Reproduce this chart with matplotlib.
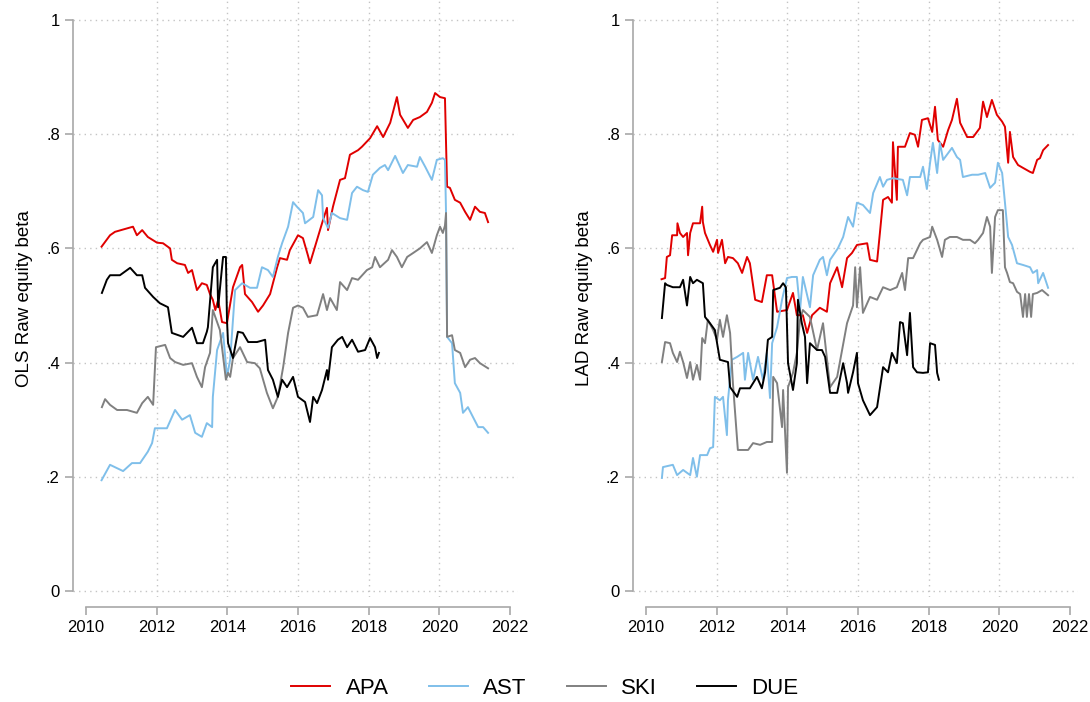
import matplotlib
matplotlib.use("Agg")
import matplotlib.pyplot as plt
from matplotlib.ticker import FuncFormatter

plt.rcParams['font.family'] = ['Liberation Sans', 'DejaVu Sans']

# ---- OLS panel ----
ols_apa_t = [2010.44, 2010.68, 2010.82, 2011.33, 2011.44, 2011.59, 2011.75, 2012.01, 2012.18, 2012.38,
             2012.43, 2012.58, 2012.80, 2012.89, 2013.00, 2013.14, 2013.28, 2013.42, 2013.51, 2013.59,
             2013.66, 2013.74, 2013.85, 2013.99, 2014.16, 2014.36, 2014.42, 2014.50, 2014.70, 2014.87,
             2015.01, 2015.21, 2015.41, 2015.49, 2015.69, 2015.77, 2016.00, 2016.14, 2016.28, 2016.34,
             2016.54, 2016.71, 2016.82, 2016.85, 2016.99, 2017.19, 2017.33, 2017.47, 2017.70, 2017.81,
             2018.04, 2018.24, 2018.41, 2018.61, 2018.80, 2018.89, 2019.11, 2019.26, 2019.45, 2019.65,
             2019.79, 2019.88, 2020.02, 2020.16, 2020.19, 2020.22, 2020.30, 2020.44, 2020.59, 2020.73,
             2020.87, 2021.01, 2021.15, 2021.29, 2021.38]
ols_apa_v = [0.603, 0.623, 0.629, 0.638, 0.623, 0.632, 0.620, 0.610, 0.609, 0.600,
             0.580, 0.574, 0.571, 0.557, 0.562, 0.527, 0.539, 0.536, 0.520, 0.510,
             0.492, 0.510, 0.471, 0.469, 0.532, 0.567, 0.571, 0.520, 0.506, 0.489,
             0.500, 0.520, 0.567, 0.583, 0.580, 0.597, 0.623, 0.618, 0.588, 0.574,
             0.615, 0.650, 0.671, 0.632, 0.673, 0.720, 0.723, 0.764, 0.772, 0.778,
             0.793, 0.814, 0.795, 0.820, 0.865, 0.834, 0.811, 0.825, 0.830, 0.839,
             0.855, 0.872, 0.865, 0.863, 0.785, 0.708, 0.706, 0.685, 0.680, 0.664,
             0.650, 0.673, 0.664, 0.662, 0.646]

ols_ast_t = [2010.44, 2010.68, 2011.05, 2011.30, 2011.53, 2011.75, 2011.87, 2011.95, 2012.29, 2012.52,
             2012.72, 2012.94, 2013.09, 2013.28, 2013.42, 2013.57, 2013.59, 2013.71, 2013.88, 2013.99,
             2014.08, 2014.16, 2014.22, 2014.42, 2014.64, 2014.84, 2014.98, 2015.15, 2015.29, 2015.43,
             2015.55, 2015.72, 2015.86, 2015.97, 2016.14, 2016.20, 2016.43, 2016.57, 2016.68, 2016.71,
             2016.85, 2016.96, 2017.19, 2017.39, 2017.53, 2017.67, 2017.84, 2017.98, 2018.12, 2018.32,
             2018.46, 2018.55, 2018.75, 2018.89, 2018.97, 2019.11, 2019.37, 2019.45, 2019.60, 2019.79,
             2019.93, 2020.10, 2020.16, 2020.19, 2020.22, 2020.36, 2020.44, 2020.59, 2020.67, 2020.81,
             2020.95, 2021.10, 2021.24, 2021.38]
ols_ast_v = [0.194, 0.221, 0.210, 0.224, 0.224, 0.244, 0.259, 0.285, 0.285, 0.317,
             0.300, 0.308, 0.277, 0.270, 0.294, 0.287, 0.340, 0.422, 0.452, 0.375,
             0.405, 0.475, 0.527, 0.539, 0.531, 0.531, 0.567, 0.562, 0.550, 0.585,
             0.609, 0.638, 0.681, 0.673, 0.662, 0.644, 0.655, 0.702, 0.693, 0.653,
             0.636, 0.662, 0.653, 0.650, 0.697, 0.708, 0.702, 0.699, 0.729, 0.741,
             0.746, 0.737, 0.762, 0.743, 0.732, 0.746, 0.743, 0.760, 0.743, 0.720,
             0.755, 0.758, 0.755, 0.662, 0.445, 0.434, 0.364, 0.347, 0.312, 0.322,
             0.305, 0.287, 0.287, 0.277]

ols_ski_t = [2010.45, 2010.54, 2010.68, 2010.88, 2011.16, 2011.44, 2011.59, 2011.75, 2011.90, 2011.98,
             2012.24, 2012.38, 2012.52, 2012.75, 2013.00, 2013.14, 2013.28, 2013.37, 2013.51, 2013.59,
             2013.79, 2013.96, 2014.02, 2014.08, 2014.16, 2014.36, 2014.56, 2014.78, 2014.92, 2015.12,
             2015.29, 2015.43, 2015.58, 2015.72, 2015.86, 2016.00, 2016.14, 2016.28, 2016.54, 2016.71,
             2016.82, 2016.91, 2017.10, 2017.19, 2017.39, 2017.53, 2017.70, 2017.95, 2018.10, 2018.18,
             2018.32, 2018.55, 2018.66, 2018.80, 2018.94, 2019.09, 2019.26, 2019.45, 2019.65, 2019.79,
             2019.93, 2020.02, 2020.10, 2020.16, 2020.19, 2020.22, 2020.36, 2020.44, 2020.59, 2020.73,
             2020.87, 2021.01, 2021.15, 2021.38]
ols_ski_v = [0.322, 0.336, 0.326, 0.317, 0.317, 0.312, 0.329, 0.340, 0.326, 0.427,
             0.431, 0.408, 0.401, 0.396, 0.399, 0.375, 0.357, 0.392, 0.417, 0.492,
             0.457, 0.370, 0.382, 0.375, 0.408, 0.427, 0.401, 0.399, 0.390, 0.347,
             0.320, 0.340, 0.392, 0.452, 0.496, 0.500, 0.496, 0.480, 0.483, 0.520,
             0.492, 0.513, 0.492, 0.541, 0.527, 0.548, 0.545, 0.562, 0.567, 0.585,
             0.567, 0.580, 0.597, 0.585, 0.567, 0.585, 0.592, 0.600, 0.611, 0.592,
             0.623, 0.638, 0.627, 0.640, 0.662, 0.445, 0.448, 0.422, 0.417, 0.392,
             0.405, 0.408, 0.399, 0.390]

ols_due_t = [2010.45, 2010.59, 2010.68, 2010.96, 2011.25, 2011.44, 2011.59, 2011.67, 2011.90, 2012.09,
             2012.32, 2012.43, 2012.75, 2013.00, 2013.14, 2013.31, 2013.42, 2013.45, 2013.59, 2013.71,
             2013.74, 2013.85, 2013.88, 2013.96, 2013.99, 2014.02, 2014.16, 2014.30, 2014.44, 2014.59,
             2014.84, 2015.07, 2015.15, 2015.29, 2015.43, 2015.55, 2015.69, 2015.86, 2016.00, 2016.20,
             2016.34, 2016.43, 2016.54, 2016.68, 2016.82, 2016.85, 2016.96, 2017.13, 2017.25, 2017.39,
             2017.53, 2017.70, 2017.90, 2018.04, 2018.18, 2018.24, 2018.29]
ols_due_v = [0.522, 0.545, 0.553, 0.553, 0.566, 0.553, 0.553, 0.531, 0.515, 0.504,
             0.497, 0.452, 0.445, 0.461, 0.434, 0.434, 0.454, 0.462, 0.567, 0.580,
             0.497, 0.567, 0.585, 0.585, 0.475, 0.434, 0.408, 0.454, 0.452, 0.436,
             0.436, 0.440, 0.387, 0.370, 0.340, 0.370, 0.357, 0.375, 0.340, 0.331,
             0.296, 0.340, 0.329, 0.352, 0.387, 0.370, 0.427, 0.440, 0.445, 0.427,
             0.440, 0.419, 0.422, 0.443, 0.427, 0.408, 0.417]

# ---- LAD panel ----
lad_apa_t = [2010.44, 2010.54, 2010.59, 2010.68, 2010.74, 2010.88, 2010.89, 2010.96, 2011.05, 2011.16,
             2011.19, 2011.25, 2011.33, 2011.53, 2011.59, 2011.61, 2011.67, 2011.81, 2011.90, 2012.01,
             2012.04, 2012.15, 2012.24, 2012.32, 2012.46, 2012.60, 2012.72, 2012.86, 2012.94, 2013.09,
             2013.28, 2013.42, 2013.57, 2013.71, 2013.99, 2014.16, 2014.27, 2014.44, 2014.56, 2014.70,
             2014.92, 2015.12, 2015.21, 2015.41, 2015.55, 2015.69, 2015.83, 2015.97, 2016.26, 2016.34,
             2016.54, 2016.62, 2016.71, 2016.85, 2016.96, 2016.99, 2017.10, 2017.13, 2017.33, 2017.47,
             2017.61, 2017.70, 2017.81, 2017.98, 2018.10, 2018.18, 2018.26, 2018.41, 2018.55, 2018.66,
             2018.80, 2018.89, 2019.09, 2019.26, 2019.45, 2019.54, 2019.65, 2019.79, 2019.93, 2020.08,
             2020.16, 2020.25, 2020.30, 2020.39, 2020.53, 2020.67, 2020.87, 2020.95, 2021.07, 2021.15,
             2021.24, 2021.38]
lad_apa_v = [0.546, 0.548, 0.585, 0.588, 0.623, 0.623, 0.644, 0.627, 0.620, 0.627,
             0.588, 0.627, 0.644, 0.644, 0.673, 0.646, 0.627, 0.606, 0.594, 0.615,
             0.592, 0.615, 0.574, 0.585, 0.583, 0.574, 0.557, 0.585, 0.574, 0.510,
             0.506, 0.553, 0.553, 0.489, 0.492, 0.522, 0.483, 0.483, 0.452, 0.483,
             0.496, 0.489, 0.539, 0.567, 0.532, 0.583, 0.592, 0.606, 0.609, 0.580,
             0.577, 0.627, 0.685, 0.690, 0.680, 0.786, 0.685, 0.778, 0.778, 0.802,
             0.799, 0.778, 0.825, 0.828, 0.804, 0.848, 0.790, 0.778, 0.807, 0.825,
             0.862, 0.820, 0.795, 0.795, 0.811, 0.857, 0.830, 0.860, 0.834, 0.822,
             0.813, 0.750, 0.804, 0.760, 0.746, 0.741, 0.734, 0.732, 0.755, 0.758,
             0.772, 0.781]

lad_ast_t = [2010.45, 2010.48, 2010.76, 2010.88, 2011.05, 2011.25, 2011.33, 2011.44, 2011.53, 2011.73,
             2011.81, 2011.90, 2011.95, 2012.09, 2012.18, 2012.29, 2012.32, 2012.43, 2012.58, 2012.75,
             2012.80, 2012.89, 2013.03, 2013.17, 2013.31, 2013.42, 2013.51, 2013.57, 2013.71, 2013.85,
             2013.99, 2014.13, 2014.27, 2014.36, 2014.44, 2014.64, 2014.73, 2014.92, 2015.01, 2015.12,
             2015.21, 2015.43, 2015.58, 2015.72, 2015.86, 2015.97, 2016.14, 2016.34, 2016.43, 2016.62,
             2016.71, 2016.82, 2016.99, 2017.27, 2017.39, 2017.47, 2017.76, 2017.84, 2017.95, 2018.04,
             2018.12, 2018.24, 2018.32, 2018.41, 2018.66, 2018.80, 2018.89, 2018.97, 2019.23, 2019.40,
             2019.60, 2019.74, 2019.88, 2019.96, 2020.08, 2020.16, 2020.25, 2020.36, 2020.50, 2020.67,
             2020.87, 2020.95, 2021.07, 2021.10, 2021.24, 2021.38]
lad_ast_v = [0.198, 0.217, 0.221, 0.203, 0.212, 0.203, 0.233, 0.200, 0.238, 0.238,
             0.250, 0.252, 0.340, 0.334, 0.340, 0.273, 0.334, 0.405, 0.410, 0.417,
             0.370, 0.417, 0.370, 0.410, 0.370, 0.417, 0.338, 0.434, 0.462, 0.510,
             0.548, 0.550, 0.550, 0.492, 0.550, 0.497, 0.553, 0.580, 0.585, 0.553,
             0.580, 0.600, 0.620, 0.655, 0.638, 0.680, 0.676, 0.662, 0.697, 0.725,
             0.708, 0.720, 0.723, 0.720, 0.693, 0.725, 0.725, 0.743, 0.704, 0.750,
             0.785, 0.732, 0.785, 0.755, 0.776, 0.760, 0.755, 0.725, 0.729, 0.729,
             0.732, 0.706, 0.715, 0.750, 0.732, 0.680, 0.620, 0.606, 0.574, 0.571,
             0.567, 0.557, 0.562, 0.539, 0.557, 0.531]

lad_ski_t = [2010.45, 2010.54, 2010.68, 2010.76, 2010.88, 2010.96, 2011.05, 2011.16, 2011.25, 2011.33,
             2011.44, 2011.53, 2011.59, 2011.67, 2011.75, 2011.90, 2012.01, 2012.09, 2012.18, 2012.29,
             2012.38, 2012.46, 2012.60, 2012.89, 2013.03, 2013.23, 2013.42, 2013.57, 2013.60, 2013.71,
             2013.85, 2013.88, 2013.99, 2014.02, 2014.16, 2014.27, 2014.36, 2014.44, 2014.64, 2014.84,
             2015.01, 2015.21, 2015.41, 2015.69, 2015.86, 2015.92, 2015.97, 2016.06, 2016.14, 2016.34,
             2016.54, 2016.71, 2016.91, 2017.10, 2017.25, 2017.33, 2017.42, 2017.56, 2017.76, 2017.84,
             2018.04, 2018.10, 2018.24, 2018.38, 2018.46, 2018.60, 2018.80, 2018.97, 2019.17, 2019.31,
             2019.40, 2019.54, 2019.65, 2019.74, 2019.79, 2019.88, 2019.96, 2020.10, 2020.16, 2020.22,
             2020.30, 2020.39, 2020.50, 2020.59, 2020.67, 2020.73, 2020.78, 2020.84, 2020.90, 2020.95,
             2021.07, 2021.21, 2021.38]
lad_ski_v = [0.401, 0.436, 0.434, 0.417, 0.401, 0.419, 0.401, 0.373, 0.401, 0.370,
             0.396, 0.370, 0.443, 0.434, 0.475, 0.457, 0.440, 0.475, 0.445, 0.483,
             0.452, 0.364, 0.247, 0.247, 0.259, 0.256, 0.261, 0.261, 0.375, 0.364,
             0.287, 0.352, 0.207, 0.357, 0.382, 0.417, 0.475, 0.492, 0.480, 0.422,
             0.469, 0.357, 0.375, 0.469, 0.500, 0.567, 0.497, 0.567, 0.487, 0.515,
             0.510, 0.532, 0.527, 0.532, 0.557, 0.527, 0.583, 0.583, 0.609, 0.615,
             0.620, 0.638, 0.615, 0.585, 0.615, 0.620, 0.620, 0.615, 0.615, 0.609,
             0.615, 0.627, 0.655, 0.638, 0.557, 0.655, 0.667, 0.667, 0.567, 0.557,
             0.541, 0.539, 0.524, 0.520, 0.480, 0.520, 0.480, 0.520, 0.480, 0.520,
             0.522, 0.527, 0.518]

lad_due_t = [2010.45, 2010.54, 2010.59, 2010.76, 2010.96, 2011.05, 2011.16, 2011.25, 2011.33, 2011.44,
             2011.61, 2011.67, 2011.81, 2011.95, 2012.09, 2012.32, 2012.38, 2012.58, 2012.66, 2012.94,
             2013.14, 2013.28, 2013.37, 2013.45, 2013.57, 2013.60, 2013.79, 2013.88, 2013.96, 2014.02,
             2014.16, 2014.27, 2014.30, 2014.41, 2014.50, 2014.56, 2014.64, 2014.84, 2014.98, 2015.07,
             2015.21, 2015.41, 2015.58, 2015.69, 2015.72, 2015.86, 2015.97, 2016.00, 2016.14, 2016.34,
             2016.54, 2016.71, 2016.85, 2016.96, 2017.10, 2017.19, 2017.27, 2017.39, 2017.47, 2017.56,
             2017.67, 2017.84, 2017.98, 2018.04, 2018.18, 2018.24, 2018.29]
lad_due_v = [0.478, 0.539, 0.536, 0.532, 0.532, 0.545, 0.500, 0.550, 0.539, 0.545,
             0.539, 0.480, 0.469, 0.457, 0.405, 0.401, 0.357, 0.340, 0.355, 0.355,
             0.375, 0.355, 0.383, 0.440, 0.445, 0.527, 0.531, 0.539, 0.532, 0.399,
             0.352, 0.399, 0.510, 0.469, 0.445, 0.364, 0.434, 0.422, 0.422, 0.410,
             0.347, 0.347, 0.399, 0.364, 0.347, 0.383, 0.417, 0.364, 0.334, 0.308,
             0.322, 0.392, 0.383, 0.417, 0.399, 0.471, 0.469, 0.413, 0.487, 0.392,
             0.383, 0.382, 0.383, 0.434, 0.431, 0.382, 0.370]

names = ["APA", "AST", "SKI", "DUE"]
colors = ["#e00000", "#7fbfea", "#808080", "#000000"]
y_ticks = [0, 0.2, 0.4, 0.6, 0.8, 1]
x_ticks = [2010, 2012, 2014, 2016, 2018, 2020, 2022]

panels = [
    ("OLS Raw equity beta", [(ols_apa_t, ols_apa_v), (ols_ast_t, ols_ast_v),
                             (ols_ski_t, ols_ski_v), (ols_due_t, ols_due_v)]),
    ("LAD Raw equity beta", [(lad_apa_t, lad_apa_v), (lad_ast_t, lad_ast_v),
                             (lad_ski_t, lad_ski_v), (lad_due_t, lad_due_v)]),
]


def beta_fmt(y, pos):
    # Stata style: 0, .2, .4 ... 1
    if y == 0:
        return "0"
    if y == 1:
        return "1"
    return f"{y:.1f}".lstrip("0")


fig = plt.figure(figsize=(10.9, 7.02), dpi=100)
axes_left = [73 / 1090, 633 / 1090]

for left, (ylabel, series) in zip(axes_left, panels):
    ax = fig.add_axes([left, 105 / 702, 445 / 1090, 597 / 702])
    # dotted grid behind the lines
    for yv in y_ticks:
        ax.axhline(yv, color="#c4c4c4", lw=1.0, ls=(0, (1, 3)), zorder=0)
    for xv in x_ticks[1:-1]:
        ax.axvline(xv, color="#c4c4c4", lw=1.0, ls=(0, (1, 3)), zorder=0)
    for (t, v), name, c in zip(series, names, colors):
        ax.plot(t, v, color=c, lw=1.4, label=name)

    ax.set_xlim(2009.632, 2022.227)
    ax.set_ylim(-0.0105, 1.035)
    ax.set_yticks(y_ticks)
    ax.yaxis.set_major_formatter(FuncFormatter(beta_fmt))
    ax.set_xticks(x_ticks)
    ax.set_ylabel(ylabel, fontsize=13.5, labelpad=9)

    for s in ["top", "right"]:
        ax.spines[s].set_visible(False)
    ax.spines["left"].set_bounds(0, 1)
    ax.spines["bottom"].set_bounds(2010, 2022)
    ax.spines["bottom"].set_position(("outward", 7))
    for s in ["left", "bottom"]:
        ax.spines[s].set_color("#a8a8a8")
        ax.spines[s].set_linewidth(1.2)
    ax.tick_params(axis="both", colors="#a8a8a8", width=1.2, length=5.5, labelsize=12,
                   labelcolor="black", pad=4)

handles, labels = ax.get_legend_handles_labels()
fig.legend(handles, labels, loc="center", bbox_to_anchor=(545 / 1090, 1 - 688 / 702), ncol=4,
           frameon=False, fontsize=16, handlelength=1.75, columnspacing=1.8, handletextpad=0.7)

fig.savefig("out.png", dpi=100)
